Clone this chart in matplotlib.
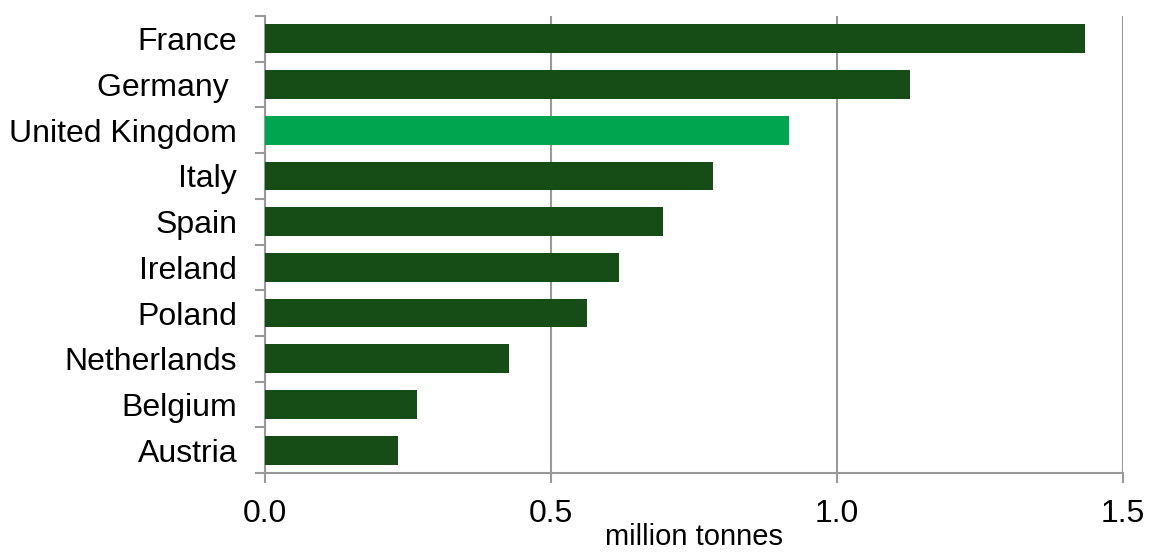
import matplotlib
matplotlib.use('Agg')
import matplotlib.pyplot as plt
import numpy as np

countries = ['France', 'Germany ', 'United Kingdom', 'Italy', 'Spain', 'Ireland',
             'Poland', 'Netherlands', 'Belgium', 'Austria']
values = [1.434, 1.128, 0.916, 0.783, 0.696, 0.619, 0.563, 0.426, 0.265, 0.232]
highlight = 'United Kingdom'
xticks = [0.0, 0.5, 1.0, 1.5]

dark = '#164C15'
bright = '#00A54F'
grey = '#999999'

plt.rcParams['font.family'] = ['Liberation Sans', 'DejaVu Sans']

fig = plt.figure(figsize=(11.5, 5.55), dpi=100)
ax = fig.add_axes([0.2304, 0.1477, 0.7461, 0.8235])

y = np.arange(len(countries))
colors = [bright if c == highlight else dark for c in countries]
ax.barh(y, values, height=0.63, color=colors, zorder=3)

ax.set_ylim(len(countries) - 0.5, -0.5)
ax.set_xlim(0, 1.5)

ax.set_yticks(y)
ax.set_yticklabels(countries, fontsize=23)
ax.set_yticks(np.arange(-0.5, len(countries)), minor=True)
ax.tick_params(axis='y', which='major', length=0, pad=20)
ax.tick_params(axis='y', which='minor', length=7.5, width=1.5, color=grey)

ax.set_xticks(xticks)
ax.set_xticklabels(['%.1f' % t for t in xticks], fontsize=23)
ax.tick_params(axis='x', length=7.5, width=1.5, color=grey, pad=11)
ax.xaxis.grid(True, color=grey, linewidth=1.5, zorder=0)

for s in ['top', 'right']:
    ax.spines[s].set_visible(False)
for s in ['left', 'bottom']:
    ax.spines[s].set_color(grey)
    ax.spines[s].set_linewidth(1.5)

ax.set_xlabel('million tonnes', fontsize=21, labelpad=-4)

plt.savefig('out.png', dpi=100)
